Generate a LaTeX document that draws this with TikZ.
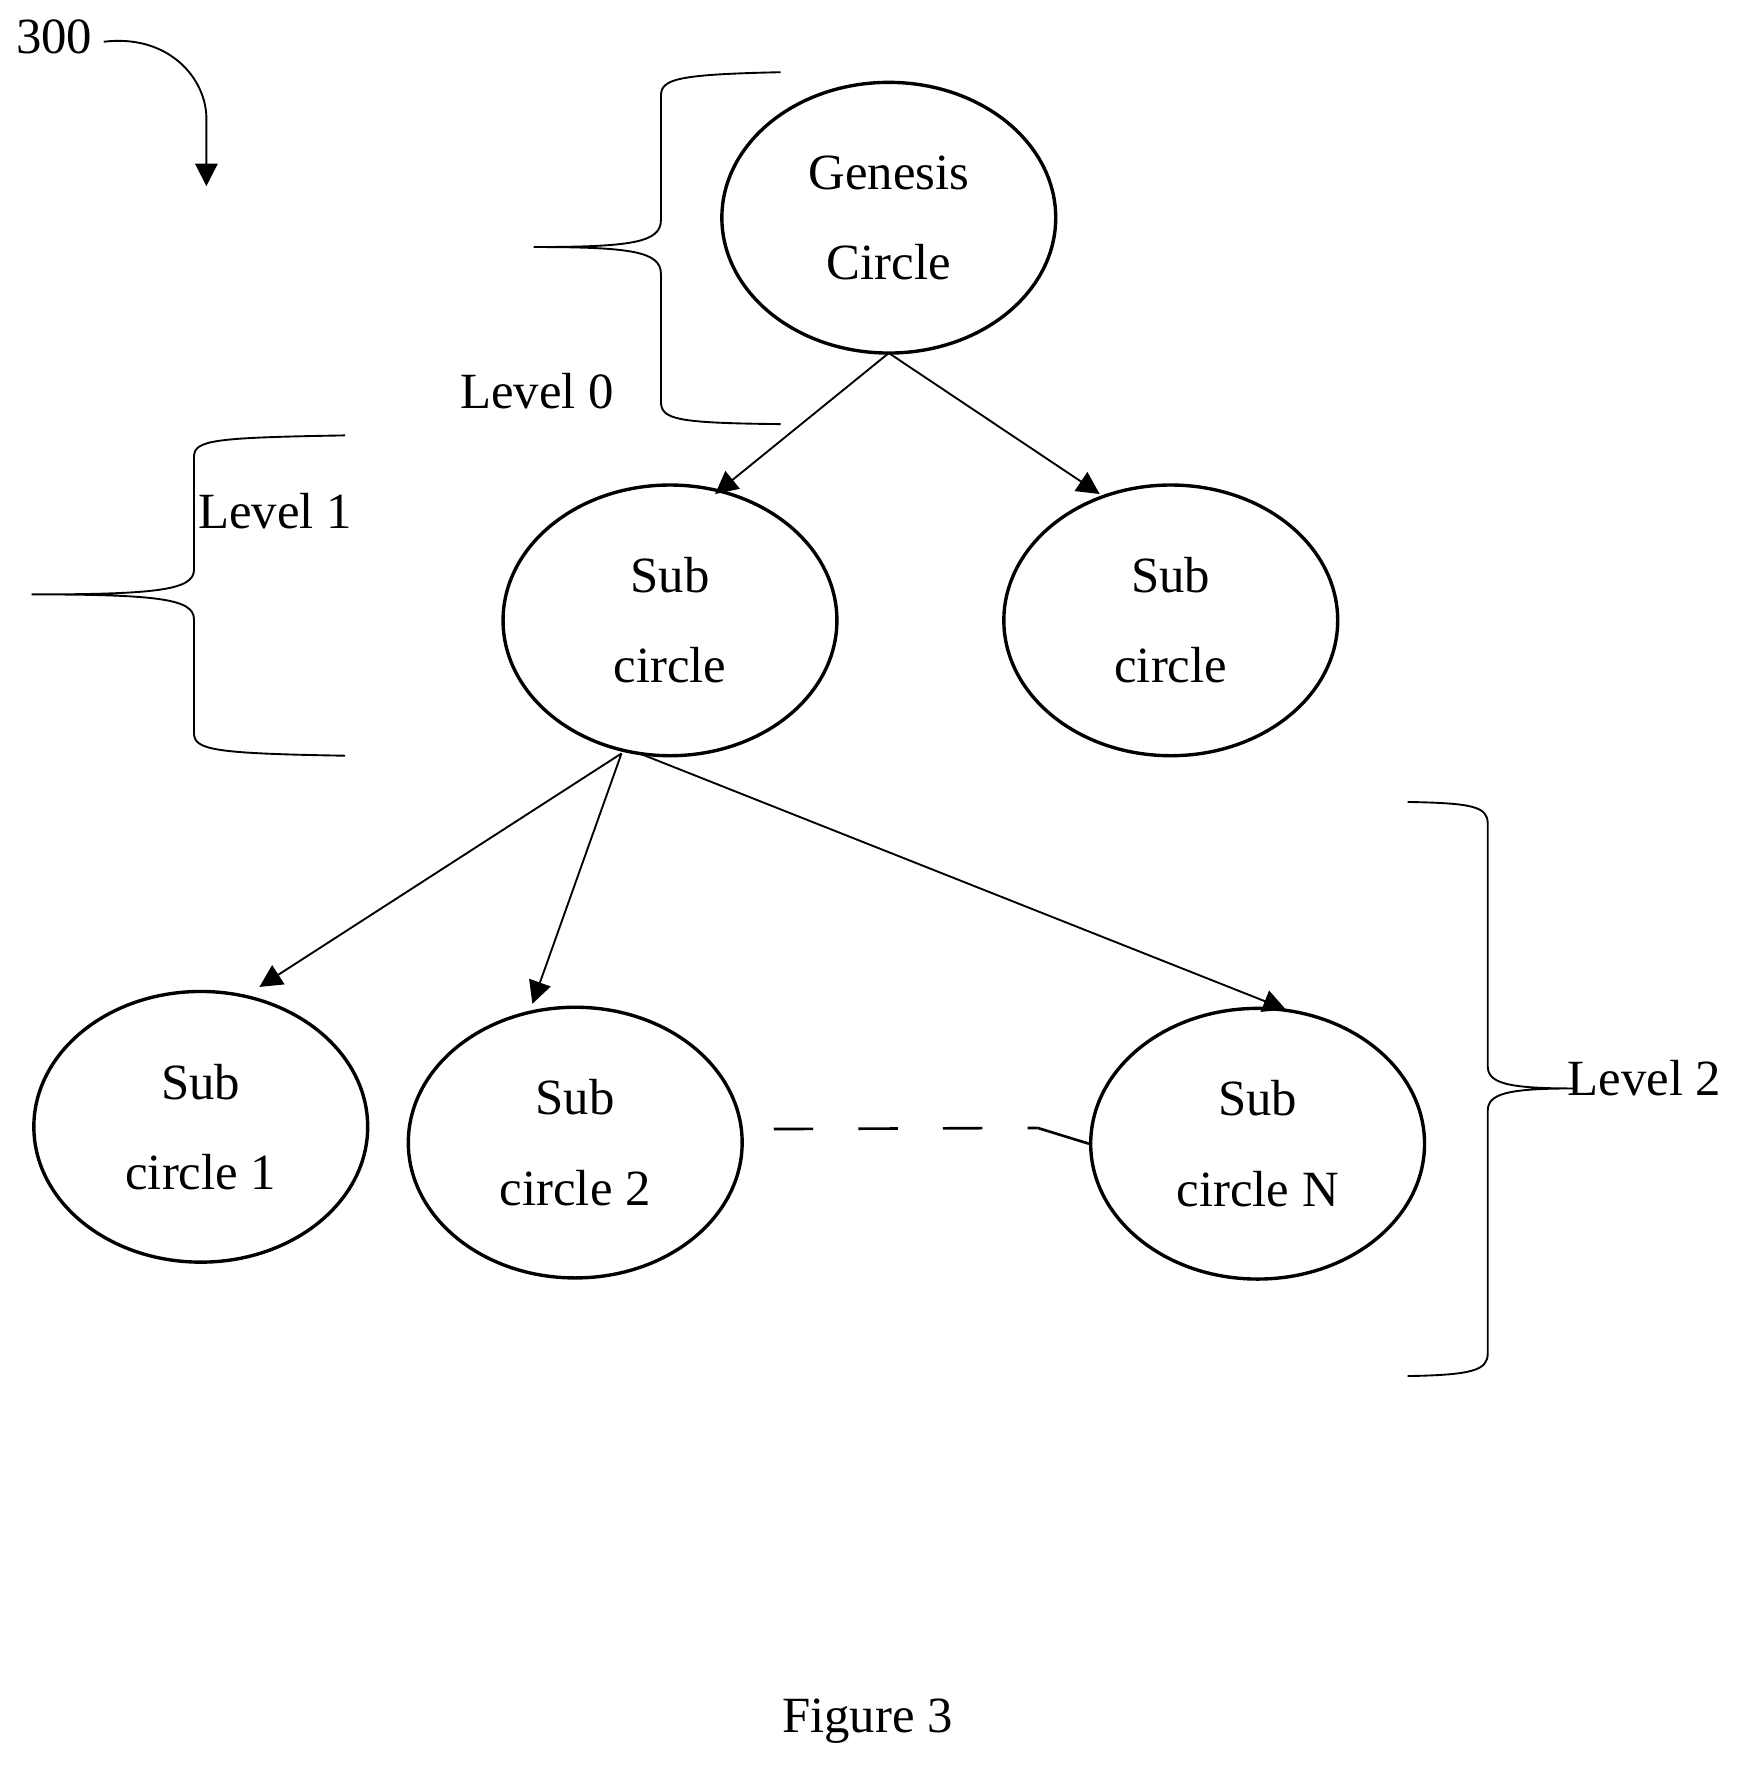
\documentclass[tikz,border=0pt]{standalone}
\usepackage{fontspec}
\setmainfont{Liberation Serif}
\usetikzlibrary{arrows.meta,shapes.geometric}
\begin{document}
\begin{tikzpicture}[x=0.3pt,y=-0.3pt,
  every node/.style={font=\fontsize{13.5}{18}\selectfont},
  el/.style={draw,ellipse,line width=0.9pt,minimum width=296*0.3pt,minimum height=240*0.3pt,align=center,inner sep=0pt},
  arr/.style={-{Triangle[length=6pt,width=6pt]},line width=0.5pt},
  br/.style={line width=0.5pt}]
\useasboundingbox (0,0) rectangle (1560,1587);
\node[el] (g) at (788,193) {Genesis\\[6pt]Circle};
\node[el] (s1) at (594,550) {Sub\\[6pt]circle};
\node[el] (s2) at (1038,550) {Sub\\[6pt]circle};
\node[el] (a) at (178,999) {Sub\\[6pt]circle 1};
\node[el] (b) at (510,1013) {Sub\\[6pt]circle 2};
\node[el] (n) at (1115,1014) {Sub\\[6pt]circle N};
\coordinate (gb) at (788,313);
\draw[arr] (gb) -- (634,438);
\draw[arr] (gb) -- (975,438);
\coordinate (sb) at (551,668);
\coordinate (sb2) at (567,668);
\draw[arr] (sb) -- (230,875);
\draw[arr] (sb) -- (472,890);
\draw[arr] (sb2) -- (1140,895);
\draw[line width=0.7pt,dash pattern=on 10.5pt off 12pt] (686,1001) -- (920,1000);
\draw[line width=0.7pt] (920,1000) -- (n.west);
% braces
\draw[br] (692,64) .. controls (600,66) and (586,70) .. (586,85) -- (586,195) .. controls (586,215) and (560,219) .. (473,219)
  .. controls (560,219) and (586,223) .. (586,243) -- (586,356) .. controls (586,372) and (600,375) .. (692,376);
\draw[br] (306,386) .. controls (190,388) and (172,390) .. (172,405) -- (172,505) .. controls (172,523) and (140,527) .. (28,527)
  .. controls (140,527) and (172,531) .. (172,549) -- (172,650) .. controls (172,665) and (190,668) .. (306,670);
\draw[br] (1248,711) .. controls (1305,712) and (1319,715) .. (1319,730) -- (1319,945) .. controls (1319,960) and (1335,965) .. (1395,965)
  .. controls (1335,965) and (1319,970) .. (1319,985) -- (1319,1200) .. controls (1319,1215) and (1305,1219) .. (1248,1220);
\node (l0) at (476,347) {Level 0};
\node (l1) at (244,453) {Level 1};
\node (l2) at (1458,956) {Level 2};
\node (ref) at (48,33) {300};
\node (fig) at (769,1526) {Figure 3};
\coordinate (ae) at (183,165);
\draw[arr] (92,37) .. controls (150,30) and (183,70) .. (183,105) -- (ae);
\end{tikzpicture}
\end{document}
